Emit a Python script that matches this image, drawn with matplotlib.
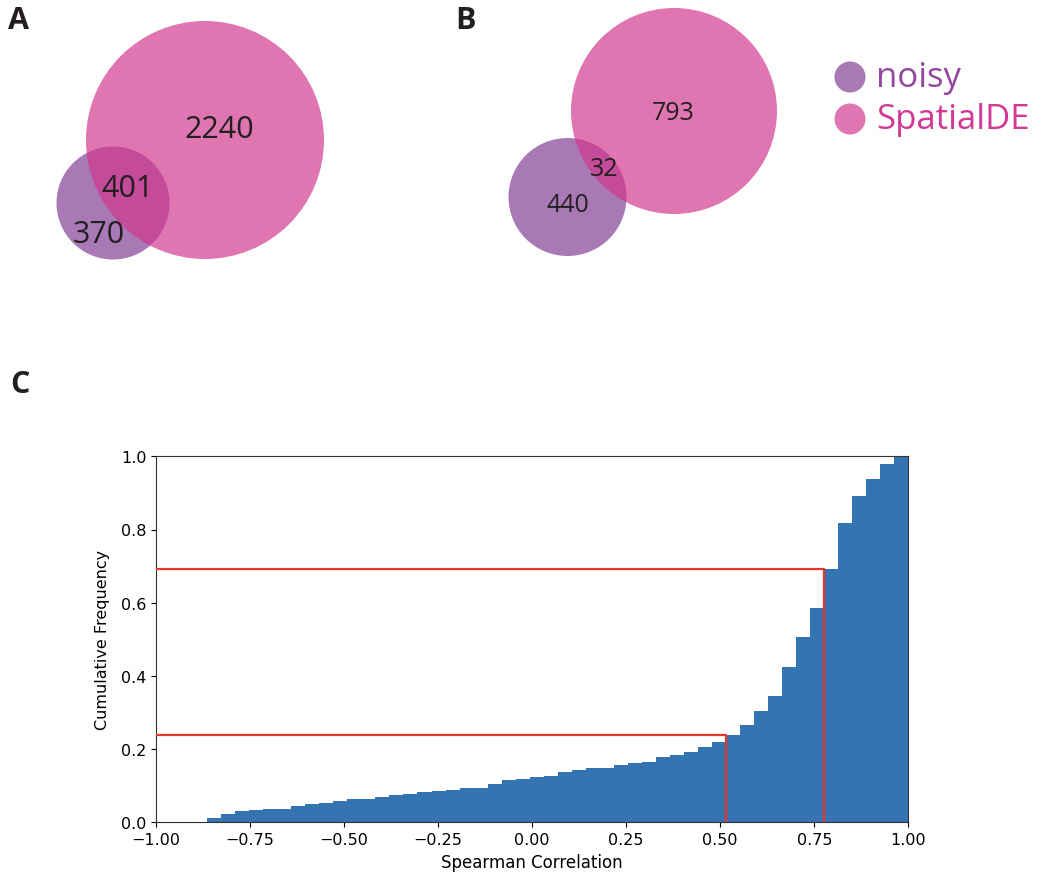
#!/usr/bin/env python3
"""
Venn overlaps (noisy vs SpatialDE) + cumulative histogram of Spearman correlation
"""
import numpy as np
import matplotlib
matplotlib.use('Agg')
import matplotlib.pyplot as plt
from matplotlib.patches import Circle

# ---- data ----
set_names = ['noisy', 'SpatialDE']
# region counts: [only noisy, overlap, only SpatialDE]
venn_a_counts = [370, 401, 2240]
venn_b_counts = [440, 32, 793]

# cumulative histogram, 50 bins between min and max correlation
corr_min, corr_max = -0.864, 1.0
cum_freq = [0.012, 0.022, 0.030, 0.033, 0.035, 0.037, 0.044, 0.049, 0.053, 0.057,
            0.064, 0.064, 0.068, 0.074, 0.078, 0.083, 0.085, 0.089, 0.093, 0.093,
            0.104, 0.116, 0.118, 0.124, 0.127, 0.137, 0.142, 0.148, 0.149, 0.157,
            0.161, 0.164, 0.178, 0.185, 0.191, 0.205, 0.220, 0.239, 0.266, 0.305,
            0.346, 0.423, 0.506, 0.585, 0.691, 0.819, 0.891, 0.938, 0.979, 1.000]
# marked thresholds (correlation, cumulative frequency)
mark_corr = [0.516, 0.776]
mark_freq = [0.239, 0.691]

# ---- styles ----
noisy_base = '#813d94'
spatial_base = '#d1378f'
venn_alpha = 0.69
noisy_text = '#93479e'
spatial_text = '#d03a94'
label_font = ['Open Sans', 'DejaVu Sans']

W, H = 1037, 879
fig = plt.figure(figsize=(W / 100, H / 100), dpi=100)

# overlay axes in pixel units for the diagram panels
ov = fig.add_axes([0, 0, 1, 1])
ov.set_xlim(0, W)
ov.set_ylim(H, 0)
ov.axis('off')


def draw_venn(ax, counts, small, big, label_pos, fs):
    """small/big = (cx, cy, r) for noisy / SpatialDE circles"""
    ax.add_patch(Circle(small[:2], small[2], facecolor=noisy_base, alpha=venn_alpha,
                        edgecolor='none'))
    ax.add_patch(Circle(big[:2], big[2], facecolor=spatial_base, alpha=venn_alpha,
                        edgecolor='none'))
    for c, (x, y) in zip(counts, label_pos):
        ax.text(x, y, str(c), ha='center', va='center', fontsize=fs,
                family=label_font, color='#231f20')


# panel A
draw_venn(ov, venn_a_counts, (113, 204, 56.5), (205, 141, 119),
          [(99, 235), (128, 189), (219, 130)], 22)
# panel B
draw_venn(ov, venn_b_counts, (567.5, 198, 59), (674, 112, 103),
          [(568, 206), (604, 170), (673, 114)], 18)

# legend
for (y, col, tcol, name) in zip([78, 120], [noisy_base, spatial_base],
                                [noisy_text, spatial_text], set_names):
    ov.add_patch(Circle((850, y), 15.5, facecolor=col, alpha=venn_alpha, edgecolor='none'))
    ov.text(876, y, name, ha='left', va='center', fontsize=25, family=label_font,
            color=tcol)

# panel letters
for letter, (x, y) in zip(['A', 'B', 'C'], [(19, 21), (465, 21), (20, 385)]):
    ov.text(x, y, letter, ha='center', va='center', fontsize=22, fontweight='bold',
            family=label_font, color='#231f20', fontstretch='condensed')

# ---- histogram panel C ----
ax = fig.add_axes([156 / W, 1 - 823.3 / H, (908.3 - 156) / W, (823.3 - 457.3) / H])
edges = np.linspace(corr_min, corr_max, len(cum_freq) + 1)
ax.bar(edges[:-1], cum_freq, width=np.diff(edges), align='edge',
       color='#3474b0', linewidth=0)
for xc, yf in zip(mark_corr, mark_freq):
    ax.plot([-1, xc, xc], [yf, yf, 0], color='#e8352b', linewidth=1.6, zorder=3)

ax.set_xlim(-1, 1)
ax.set_ylim(0, 1)
ax.set_xticks(np.arange(-1, 1.01, 0.25))
ax.set_yticks(np.arange(0, 1.01, 0.2))
ax.tick_params(labelsize=11.5)
ax.set_xlabel('Spearman Correlation', fontsize=12, labelpad=4)
ax.set_ylabel('Cumulative Frequency', fontsize=11.5, labelpad=8)
for s in ax.spines.values():
    s.set_color('#333333')

plt.savefig('out.png', dpi=100)
plt.close()
